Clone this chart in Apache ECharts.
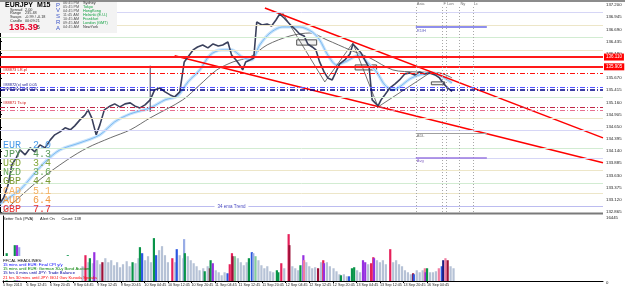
<!DOCTYPE html>
<html><head><meta charset="utf-8">
<script src="https://cdn.jsdelivr.net/npm/echarts@6/dist/echarts.min.js"></script>
<style>html,body{margin:0;padding:0;background:#fff}#c{width:625px;height:288px}</style>
</head><body><div id="c"></div>
<script>
// ---------------- DATA ----------------
// x = M15 bar index, y = price (EURJPY)
const price = [[0,133.058],[5,133.163],[11,133.435],[16,133.853],[22,134.000],[27,134.167],[34,134.062],[41,134.209],[47,134.125],[54,134.271],[61,134.209],[68,134.376],[74,134.481],[81,134.543],[88,134.627],[95,134.585],[101,134.669],[108,134.794],[115,134.899],[119,135.004],[124,134.836],[130,134.481],[135,134.690],[141,135.004],[149,135.087],[155,135.129],[162,135.066],[169,135.129],[176,135.150],[182,135.087],[189,135.045],[196,135.108],[203,135.213],[209,135.422],[216,135.464],[223,135.380],[230,135.317],[236,135.276],[243,135.380],[249,136.008],[254,136.112],[261,136.259],[267,136.321],[274,136.363],[281,136.301],[288,136.384],[295,136.342],[301,136.363],[308,136.426],[313,136.154],[319,136.050],[324,135.945],[328,135.840],[332,136.008],[338,136.050],[343,136.091],[347,136.844],[354,136.782],[361,136.803],[367,136.761],[373,136.886],[378,137.012],[384,136.928],[389,136.844],[394,136.761],[400,136.677],[405,136.593],[411,136.552],[416,136.384],[422,136.321],[427,136.259],[432,136.008],[438,135.798],[443,135.673],[449,135.631],[454,135.798],[459,135.966],[466,136.050],[473,136.175],[477,136.384],[482,136.301],[488,136.196],[493,136.050],[499,135.882],[503,135.213],[507,135.150],[511,135.087],[515,135.213],[520,135.317],[527,135.464],[534,135.547],[540,135.631],[547,135.757],[554,135.778],[561,135.736],[567,135.798],[574,135.757],[581,135.778],[588,135.736],[594,135.673],[600,135.547],[605,135.464],[611,135.390]];
const newsSpike = [[203,135.93],[203,134.96]];
const fastMA = [[0,133.037],[27,133.330],[45,133.644],[61,133.916],[81,134.167],[108,134.313],[135,134.481],[155,134.753],[176,134.920],[203,135.045],[223,135.213],[240,135.296],[254,135.589],[270,135.840],[284,136.154],[300,136.259],[313,136.259],[327,136.112],[340,136.050],[351,136.363],[365,136.614],[382,136.740],[405,136.740],[422,136.635],[432,136.468],[443,136.154],[455,135.945],[469,136.029],[486,136.154],[497,135.987],[509,135.798],[520,135.527],[531,135.422],[540,135.485],[554,135.652],[567,135.736],[584,135.778],[598,135.694],[611,135.568]];
const slowMA = [[0,132.80],[50,133.497],[91,133.958],[118,134.209],[149,134.418],[176,134.585],[203,134.836],[247,135.213],[270,135.527],[293,135.840],[315,136.008],[338,136.112],[361,136.363],[392,136.552],[419,136.614],[442,136.468],[473,136.259],[500,136.091],[531,135.840],[563,135.798],[594,135.778],[611,135.673]];
const zigzag = [[382,137.033],[439,135.589],[477,136.405],[511,135.066],[581,135.778]];
const upperTrend = [[358,137.137],[815,134.418]];
const lowerTrend = [[236,136.138],[815,133.895]];
const boxes = [[[401,136.47],[428,136.36]],[[480,135.945],[509,135.84]],[[583,135.59],[601,135.53]]];
// horizontal levels
const redLevels = [136.110, 135.905];
const currentPrice = 135.390;
const orderLevels = [135.778, 135.485, 135.422, 135.066, 135.004];
const orderLevelKinds = ['red','blue','navy','maroon','pink'];
const pivotLevels = [137.054, 136.782, 136.531, 136.259, 135.276, 134.836, 134.585, 134.209, 134.000, 133.749, 133.477, 133.267, 132.975];
const pivotKinds = ['lav','bei','grn','bei','grn','bei','lav','grn','lav','bei','grn','bei','lav2'];
// sessions
const sessionBars = [562, 598, 603, 621, 639];
const sessionNames = ['Asia', 'F', 'Lon', 'Ny', 'Lc'];
const segR1 = [[562,136.740],[658,136.740]];
const segADL = [[562,134.523],[658,134.523]];
const segAvg = [[562,134.000],[658,134.000]];
// volume: [bar, ticks, PVSRA class]
const volume = [[5,7036,'g'],[16,9068,'g'],[19,9068,'p'],[22,8560,'l'],[88,6528,'g'],[108,3734,'n'],[112,6528,'r'],[116,4750,'n'],[118,5766,'g'],[122,4496,'n'],[124,7290,'p'],[128,5258,'n'],[132,4242,'n'],[135,4750,'m'],[139,5766,'n'],[143,4750,'n'],[147,5258,'n'],[151,3988,'n'],[155,4750,'n'],[159,3480,'n'],[163,4242,'n'],[168,5004,'n'],[172,3734,'n'],[176,4750,'g'],[180,4496,'n'],[184,5766,'n'],[186,8560,'g'],[189,7036,'b'],[193,5258,'n'],[197,6274,'n'],[201,4750,'n'],[205,10846,'g'],[208,6528,'b'],[212,7798,'n'],[216,8814,'n'],[220,6528,'n'],[224,4750,'n'],[230,5766,'r'],[234,4750,'n'],[236,8052,'b'],[240,6528,'n'],[245,5766,'n'],[246,10592,'l'],[247,7036,'g'],[251,6274,'n'],[255,5258,'n'],[259,4496,'n'],[263,3734,'n'],[267,2718,'n'],[272,3226,'n'],[274,2464,'g'],[278,3734,'n'],[281,3226,'m'],[282,5258,'g'],[285,4496,'p'],[289,2718,'n'],[293,2210,'n'],[297,1448,'n'],[301,2210,'n'],[305,1956,'b'],[308,4242,'r'],[311,7036,'r'],[312,6274,'m'],[315,6274,'lg'],[319,5766,'n'],[323,4750,'n'],[327,3988,'n'],[331,4750,'n'],[334,5766,'g'],[338,7290,'b'],[340,7036,'l'],[343,6274,'lg'],[347,5258,'n'],[351,3988,'n'],[355,3226,'n'],[359,3734,'n'],[363,2464,'n'],[367,2210,'n'],[372,2718,'g'],[374,2210,'g'],[378,4496,'r'],[382,3226,'n'],[388,11862,'r'],[389,9068,'m'],[393,3734,'n'],[397,3226,'n'],[401,2718,'n'],[404,3988,'g'],[408,6528,'p'],[409,5258,'pk'],[412,4750,'n'],[416,3734,'n'],[420,3226,'n'],[424,3480,'n'],[428,3226,'m'],[432,4750,'n'],[435,5258,'r'],[436,4496,'p'],[440,4750,'n'],[444,3734,'n'],[449,3226,'n'],[453,2464,'n'],[457,1702,'n'],[459,1448,'g'],[463,1702,'n'],[467,1194,'n'],[470,1194,'b'],[474,3226,'g'],[477,3480,'g'],[481,2718,'n'],[485,2210,'n'],[489,5258,'p'],[492,4750,'p'],[496,4242,'n'],[500,4496,'r'],[503,6020,'r'],[504,5766,'p'],[508,5258,'n'],[512,4750,'n'],[516,5258,'n'],[520,4242,'n'],[526,8052,'r'],[530,4750,'n'],[534,5258,'n'],[538,4242,'n'],[542,3734,'n'],[546,2718,'n'],[550,2210,'n'],[554,1702,'n'],[557,1956,'m'],[558,1702,'b'],[562,2718,'n'],[566,2210,'n'],[570,2718,'n'],[573,3226,'pk'],[574,2210,'p'],[576,3226,'g'],[580,2210,'n'],[584,2210,'n'],[588,2464,'n'],[592,3226,'pk'],[596,3734,'b'],[598,5258,'k'],[601,5766,'pk'],[604,5258,'m'],[608,3734,'n'],[612,3226,'n']];
// axis ticks
const yTicks = [137.200,136.945,136.690,136.435,136.180,135.925,135.670,135.415,135.160,134.905,134.650,134.395,134.140,133.885,133.630,133.375,133.120,132.865];
const volTicks = [0, 16445];
const timeBars = [0,32,64,96,128,160,192,224,256,288,320,352,384,416,448,480,512,544,576];
const timeLabels = ['5 Sep 2013','6 Sep 12:45','6 Sep 20:45','9 Sep 04:45','9 Sep 12:45','9 Sep 20:45','10 Sep 04:45','10 Sep 12:45','10 Sep 20:45','11 Sep 04:45','11 Sep 12:45','11 Sep 20:45','12 Sep 04:45','12 Sep 12:45','12 Sep 20:45','13 Sep 04:45','13 Sep 12:45','13 Sep 20:45','16 Sep 04:45'];
// text panels
const infoKeys = ['Spread','Range','Swaps','Candle'];
const infoVals = ['2.00','235.48','-0.99 / -0.18','00:09:21'];
const sessTimes = ['06:45 PM','05:45 PM','04:45 PM','11:45 AM','10:45 AM','09:45 AM','04:45 AM'];
const sessCities = ['Sydney','Tokyo','HongKong','Helsinki (E.U.)','Frankfurt','London (GMT)','NewYork'];
const sessOpen = [false,true,true,true,true,true,false];
const currencies = ['EUR','JPY','USD','NZD','GBP','CAD','AUD','GBP'];
const strengths = ['2.0','4.3','3.4','3.6','4.4','5.1','6.4','7.7'];
const headlines = ['FFCAL HEADLINES:','15 mins until EUR: Final CPI y/y','15 mins until EUR: German 30-y Bond Auction','15 hrs 0 mins until JPY: Trade Balance','21 hrs 30 mins until JPY: BOJ Gov Kuroda Speaks'];
const orderTags = ['#88873 LR.pl','#88872(x) sell 0.05','#88870(x) sell 0.05','#88871 Ts.tp'];
const orderTagPrices = [135.84, 135.52, 135.45, 135.14];

// ---------------- STYLE ----------------
const F = 'Liberation Sans';
const volColor = {n:'#b6c2d6',l:'#98ace6',g:'#089448',lg:'#86cc9c',r:'#e6205a',pk:'#f07ca0',m:'#9c1038',b:'#2a56e0',p:'#9630e0',k:'#1c1c80'};
const pivotColor = {lav:'#d6d6f6',bei:'#ede6c8',grn:'#d2ecd2',lav2:'#bcbcf0'};
const orderStyle = {
  red:{color:'#ff1010',width:1.2}, blue:{color:'#5050ff',width:1.2}, navy:{color:'#000088',width:1.6},
  maroon:{color:'#c02848',width:1.2}, pink:{color:'#e87090',width:1.2}
};
const dashDot = [5,2,1,2];

const chart = echarts.init(document.getElementById('c'), null, {renderer:'canvas', width:625, height:288});

const levelLines = [];
pivotLevels.forEach((v,i)=>levelLines.push({yAxis:v, lineStyle:{color:pivotColor[pivotKinds[i]], width:1, type:'solid'}, label:{show:false}}));
orderLevels.forEach((v,i)=>levelLines.push({yAxis:v, lineStyle:{color:orderStyle[orderLevelKinds[i]].color, width:orderStyle[orderLevelKinds[i]].width, type:dashDot}, label:{show:false}}));
redLevels.forEach(v=>levelLines.push({yAxis:v, lineStyle:{color:'#ff1a1a', width:2, type:'solid'},
  label:{show:true, position:'end', distance:1, formatter:()=>v.toFixed(3), backgroundColor:'#ff0000', color:'#fff', fontSize:4.5, fontFamily:F, padding:[1,2,1,2]}}));
levelLines.push({yAxis:currentPrice, lineStyle:{opacity:0}, label:{show:true, position:'end', distance:1, formatter:()=>currentPrice.toFixed(3), backgroundColor:'#000', color:'#fff', fontSize:4.5, fontFamily:F, padding:[1,2,1,2]}});
sessionBars.forEach(b=>levelLines.push({xAxis:b, lineStyle:{color:'#a8a8a8', width:1, type:[1,2]}, label:{show:false}}));
levelLines.push([{coord:segR1[0], lineStyle:{color:'#6a6ae6', width:1.5, type:'solid'}, label:{show:false}},{coord:segR1[1]}]);
levelLines.push([{coord:segADL[0], lineStyle:{color:'#a0a0a0', width:1, type:'solid'}, label:{show:false}},{coord:segADL[1]}]);
levelLines.push([{coord:segAvg[0], lineStyle:{color:'#9a78e0', width:1.5, type:'solid'}, label:{show:false}},{coord:segAvg[1]}]);

const option = {
  animation:false,
  backgroundColor:'#ffffff',
  textStyle:{fontFamily:F},
  grid:[{left:0, top:5, width:603, height:207}, {left:0, top:216, width:603, height:65}],
  xAxis:[
    {gridIndex:0, type:'value', min:0, max:815, show:false},
    {gridIndex:1, type:'value', min:0, max:815,
     axisLine:{show:true, onZero:false, lineStyle:{color:'#000', width:1}},
     axisTick:{show:true, customValues:timeBars, length:2, lineStyle:{color:'#000'}},
     axisLabel:{customValues:timeBars, formatter:(v)=>{const i=timeBars.indexOf(Math.round(v)); return i>=0?timeLabels[i]:'';}, fontSize:3.7, color:'#222', margin:2, align:'left', fontFamily:F},
     splitLine:{show:false}}
  ],
  yAxis:[
    {gridIndex:0, type:'value', position:'right', min:132.865, max:137.2,
     axisLine:{show:true, lineStyle:{color:'#000', width:1}},
     axisTick:{show:true, customValues:yTicks, length:2, lineStyle:{color:'#000'}},
     axisLabel:{customValues:yTicks, formatter:(v)=>v.toFixed(3), fontSize:4.3, color:'#222', margin:3, fontFamily:F},
     splitLine:{show:false}},
    {gridIndex:1, type:'value', position:'right', min:0, max:16445,
     axisLine:{show:true, lineStyle:{color:'#000', width:1}},
     axisTick:{show:false},
     axisLabel:{customValues:volTicks, formatter:(v)=>String(v), fontSize:4.3, color:'#222', margin:3, verticalAlign:'top', fontFamily:F},
     splitLine:{show:false}}
  ],
  series:[
    {type:'line', name:'slowMA', data:slowMA, xAxisIndex:0, yAxisIndex:0, symbol:'none', smooth:0.3, silent:true,
     lineStyle:{color:'#5c5c5c', width:0.9},
     markLine:{silent:true, symbol:'none', precision:3, data:levelLines}},
    {type:'line', name:'fastBand', data:fastMA, symbol:'none', smooth:0.3, silent:true, lineStyle:{color:'#c8e4fb', width:3.2}},
    {type:'line', name:'fastMA', data:fastMA, symbol:'none', smooth:0.3, silent:true, lineStyle:{color:'#74b4f2', width:0.9}},
    {type:'line', name:'zigzag', data:zigzag, symbol:'none', silent:true, lineStyle:{color:'#505050', width:0.8}},
    {type:'line', name:'upper', data:upperTrend, symbol:'none', silent:true, lineStyle:{color:'#ff0000', width:1.5}},
    {type:'line', name:'lower', data:lowerTrend, symbol:'none', silent:true, lineStyle:{color:'#ff0000', width:1.5}},
    {type:'line', name:'spike', data:newsSpike, symbol:'none', silent:true, lineStyle:{color:'#3a4060', width:1}},
    {type:'line', name:'price', data:price, symbol:'none', silent:true, lineStyle:{color:'#3a405c', width:1.6},
     markArea:{silent:true, itemStyle:{color:'rgba(230,230,230,0.5)', borderColor:'#505050', borderWidth:1},
       data:boxes.map(b=>[{coord:b[0]},{coord:b[1]}])}},
    {type:'bar', name:'volume', xAxisIndex:1, yAxisIndex:1, data:volume, barWidth:2.2, silent:true,
     encode:{x:0,y:1},
     itemStyle:{color:(p)=>volColor[p.data[2]]}}
  ]
};
chart.setOption(option);

// ---------- overlay texts (positions from library scales where tied to data) ----------
const px = (b,p)=>chart.convertToPixel({xAxisIndex:0,yAxisIndex:0},[b,p]);
const T = (text,x,y,fill,size,extra)=>({type:'text', z:60, x:x, y:y, silent:true,
  style:Object.assign({text:text, fill:fill, fontSize:size, fontFamily:F, verticalAlign:'middle', align:'left'}, extra||{})});
const g = [];
g.push({type:'rect', z:55, silent:true, shape:{x:0,y:0,width:625,height:2}, style:{fill:'#8c8c8c'}});
g.push({type:'rect', z:55, silent:true, shape:{x:0,y:212.5,width:603,height:2}, style:{fill:'#7a7a7a'}});
// info box
g.push({type:'rect', z:55, silent:true, shape:{x:0,y:2,width:117,height:31}, style:{fill:'#f3f3f3'}});
g.push(T('EURJPY  M15', 5, 5.5, '#000', 7, {fontWeight:'bold'}));
infoKeys.forEach((k,i)=>{ g.push(T(k, 10, 9.5+i*3.8, '#333', 3.8)); g.push(T(infoVals[i], 25, 9.5+i*3.8, '#333', 3.8)); });
g.push(T('135.39', 9, 27, '#e8002a', 9.5, {fontWeight:'bold'}));
g.push(T('5', 37, 28, '#222', 5));
'PVSRA'.split('').forEach((c,i)=>g.push(T(c, 56, 5+i*5.8, '#3d56c8', 6)));
sessTimes.forEach((t,i)=>{ g.push(T(t, 63, 3.2+i*4, '#555', 3.8)); g.push(T(sessCities[i], 83, 3.2+i*4, sessOpen[i]?'#10a040':'#333', 3.8)); });
// currency strength
const curCol = ['#4a9ae8','#5b9a5b','#86a83c','#6aaa5a','#7a9a34','#f4b060','#f09a40','#e83030'];
currencies.forEach((c,i)=>g.push(T(c+'  '+strengths[i], 3, 145+i*9.2, curCol[i], 10, {fontFamily:'Liberation Mono'})));
// order tags
orderTags.forEach((t,i)=>{ const p=px(0,orderTagPrices[i]); g.push(T(t, 3, p[1], i===0||i===3?'#d01010':'#202090', 4)); });
// sessions labels
sessionBars.forEach((b,i)=>{ const p=px(b,137.2); g.push(T(sessionNames[i], p[0]+1, 3.5, '#707070', 4)); });
const r1=px(segR1[0][0],segR1[0][1]); g.push(T('R1/H', r1[0]+1, r1[1]+3.5, '#6060c0', 4));
const ad=px(segADL[0][0],segADL[0][1]); g.push(T('ADL', ad[0]+1, ad[1]+3.5, '#707070', 4));
const av=px(segAvg[0][0],segAvg[0][1]); g.push(T('Avg', av[0]+1, av[1]+3.5, '#8060c0', 4));
// ema trend label
const et=px(290,132.975); g.push(T('34 ema Trend', et[0], et[1], '#4848c0', 4.5, {backgroundColor:'#fff', padding:[0,3,0,3]}));
// volume panel texts
g.push(T('Better Tick (PVA)      Alert On      Count: 138', 3, 218.5, '#222', 4));
g.push({type:'rect', z:55, silent:true, shape:{x:0,y:256,width:80,height:24.5}, style:{fill:'#ffffff'}});
const hlCol = ['#000','#0000ff','#008000','#0000a0','#ff0000'];
headlines.forEach((h,i)=>g.push(T(h, 3, 261+i*4.1, hlCol[i], 4.2)));
chart.setOption({graphic:{elements:g}});
</script>
</body></html>
